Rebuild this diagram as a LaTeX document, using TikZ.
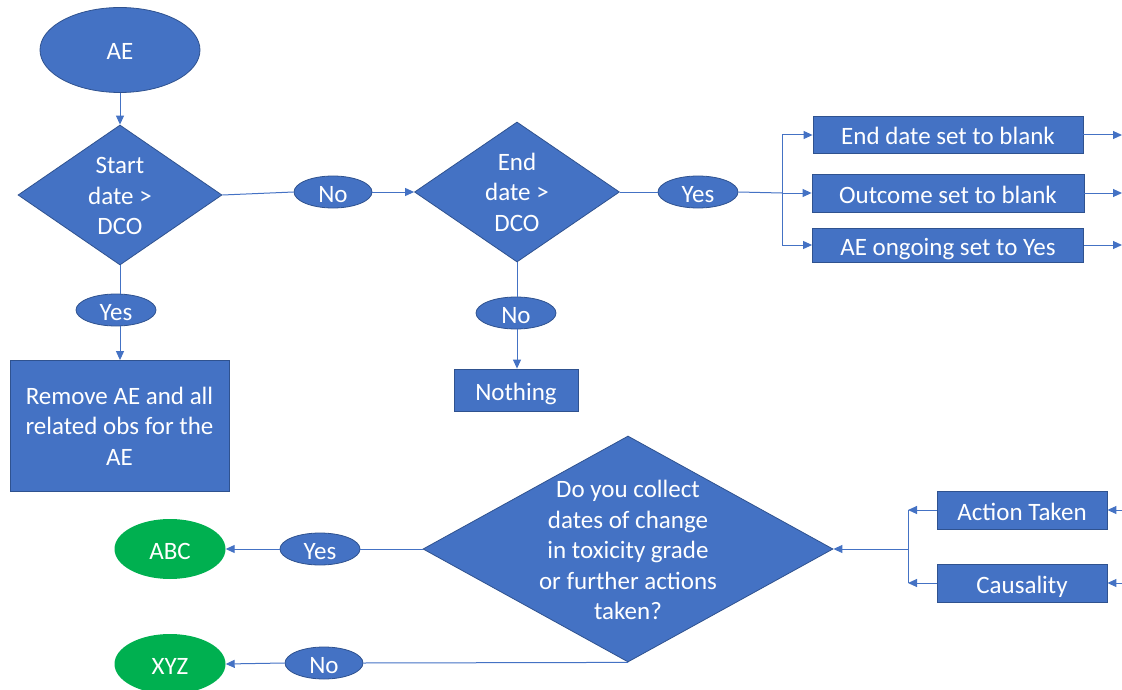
\documentclass[tikz,border=0pt]{standalone}
\usepackage{fontspec}
\setmainfont{Carlito}
\usetikzlibrary{shapes.geometric,arrows.meta}
\definecolor{ofblue}{HTML}{4472C4}
\definecolor{ofedge}{HTML}{2F528F}
\definecolor{ofgreen}{HTML}{00B050}
\tikzset{
  base/.style={text=white, font=\fontsize{25}{30.5}\selectfont, inner sep=0pt, align=center},
  onel/.style={text height=20pt, text depth=0pt},
  blueell/.style={base, onel, ellipse, fill=ofblue, draw=ofedge, line width=0.8pt},
  greenell/.style={base, onel, ellipse, fill=ofgreen},
  bluebox/.style={base, rectangle, fill=ofblue, draw=ofedge, line width=0.8pt},
  bluedia/.style={diamond, fill=ofblue, draw=ofedge, line width=0.8pt, inner sep=0pt},
  dtext/.style={base},
  conn/.style={draw=ofblue, line width=1pt},
  arr/.style={conn, -{Triangle[length=9pt,width=8pt]}}
}
\begin{document}
\begin{tikzpicture}[x=1pt,y=-1pt]
\useasboundingbox (0,0) rectangle (1122,690);
% top row
\node[blueell, minimum width=160, minimum height=85] (ae) at (120,50) {AE};
\node[bluedia, minimum width=204, minimum height=140] (d1) at (120,195) {};
\node[dtext] (d1t) at (120,196) {Start\\date >\\DCO};
\node[blueell, minimum width=78, minimum height=32] (no1) at (333,192) {No};
\node[bluedia, minimum width=205, minimum height=140] (d2) at (517,192) {};
\node[dtext] (d2t) at (517,192) {End\\date >\\DCO};
\node[blueell, minimum width=80, minimum height=32] (yes2) at (698,192) {Yes};
\node[bluebox, onel, minimum width=270, minimum height=37] (b1) at (948,135) {End date set to blank};
\node[bluebox, onel, minimum width=272, minimum height=38] (b2) at (948,193) {Outcome set to blank};
\node[bluebox, onel, minimum width=271, minimum height=34] (b3) at (948,245) {AE ongoing set to Yes};
\coordinate (j1) at (782,193);
\coordinate (jt) at (782,135);
\coordinate (jb) at (782,245);
\coordinate (o1) at (1122,135);
\coordinate (o2) at (1122,193);
\coordinate (o3) at (1122,245);
% left column
\node[blueell, minimum width=80, minimum height=32] (yes1) at (116,310) {Yes};
\node[bluebox, minimum width=219, minimum height=131] (rem) at (119.5,426) {Remove AE and all\\related obs for the\\AE};
\node[blueell, minimum width=80, minimum height=32] (no2) at (516,313) {No};
\node[bluebox, onel, minimum width=124, minimum height=42] (noth) at (516,390) {Nothing};
% bottom
\node[bluedia, minimum width=410, minimum height=226] (d3) at (628,549) {};
\node[dtext] (d3t) at (628,550) {Do you collect\\dates of change\\in toxicity grade\\or further actions\\taken?};
\node[blueell, minimum width=80, minimum height=32] (yes3) at (320,549) {Yes};
\node[greenell, minimum width=111, minimum height=60] (abc) at (170,549) {ABC};
\node[blueell, minimum width=78, minimum height=32] (no3) at (324,663) {No};
\node[greenell, minimum width=111, minimum height=60] (xyz) at (170,664) {XYZ};
\node[bluebox, onel, minimum width=170, minimum height=38] (act) at (1022,510) {Action Taken};
\node[bluebox, onel, minimum width=170, minimum height=38] (cau) at (1022,583) {Causality};
\coordinate (ia) at (1122,510);
\coordinate (ic) at (1122,583);
\coordinate (ja) at (908,510);
\coordinate (jc) at (908,583);
\coordinate (jm) at (908,549);
% connectors
\draw[arr] (ae) -- (d1.north);
\draw[conn] (d1.east) -- (no1.west);
\draw[arr] (no1.east) -- (d2.west);
\draw[conn] (d2.east) -- (yes2.west);
\draw[conn] (yes2.east) -- (j1);
\draw[conn] (jt) -- (jb);
\draw[arr] (jt) -- (b1.west);
\draw[arr] (j1) -- (b2.west);
\draw[arr] (jb) -- (b3.west);
\draw[arr] (b1.east) -- (o1);
\draw[arr] (b2.east) -- (o2);
\draw[arr] (b3.east) -- (o3);
\draw[conn] (d1.south) -- (yes1.north -| d1.south);
\draw[arr] (yes1.south -| d1.south) -- (rem.north -| d1.south);
\draw[conn] (d2.south) -- (no2.north -| d2.south);
\draw[arr] (no2.south -| d2.south) -- (noth.north -| d2.south);
\draw[conn] (d3.west) -- (yes3.east);
\draw[arr] (yes3.west) -- (abc.east);
\draw[conn] (d3.south) -- (no3.east);
\draw[arr] (no3.west) -- (xyz.east);
\draw[arr] (ia) -- (act.east);
\draw[arr] (ic) -- (cau.east);
\draw[arr] (act.west) -- (ja);
\draw[arr] (cau.west) -- (jc);
\draw[conn] (ja) -- (jc);
\draw[arr] (jm) -- (d3.east);
\end{tikzpicture}
\end{document}
